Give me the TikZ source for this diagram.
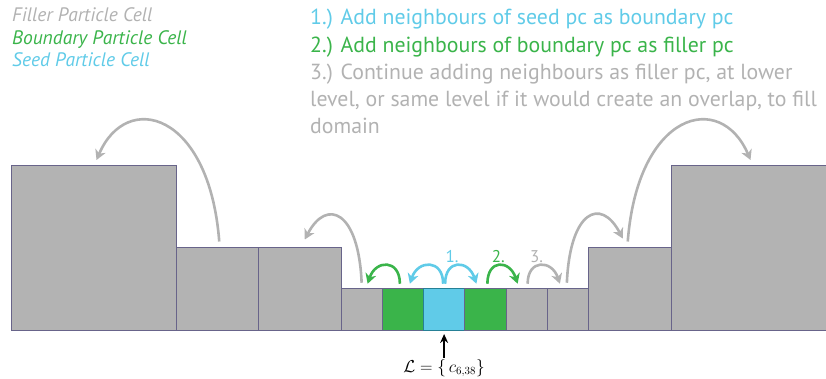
\documentclass[tikz,border=0pt]{standalone}
\usepackage{fontspec}
\setmainfont{PT Sans}
\usetikzlibrary{positioning,arrows.meta}
\definecolor{fillgray}{RGB}{179,179,179}
\definecolor{cellline}{RGB}{104,100,138}
\definecolor{bndgreen}{RGB}{58,180,74}
\definecolor{seedblue}{RGB}{96,203,232}
\definecolor{seedline}{RGB}{38,128,150}
\definecolor{txtgray}{RGB}{178,178,178}

\begin{document}
\begin{tikzpicture}[x=1pt,y=1pt,
    cell/.style={draw=cellline,line width=0.8pt,fill=fillgray,inner sep=0pt,outer sep=0pt,anchor=south west,minimum size=41.25pt},
    bnd/.style={cell,fill=bndgreen},
    seedpc/.style={cell,fill=seedblue,draw=seedline},
    key/.style={anchor=base west,inner sep=0pt,font=\fontsize{19.5}{23}\selectfont\itshape},
    steptext/.style={anchor=base west,inner sep=0pt,align=left,font=\fontsize{21.8}{27}\selectfont},
    hop/.style={line width=2.6pt,-{Stealth[length=10pt,width=11pt,inset=3pt]}},
    ]
  \useasboundingbox (0,0) rectangle (826,378);
  \clip (0,0) rectangle (826,378);

  % legend
  \node[key,text=txtgray] (fillkey) at (12,356) {Filler Particle Cell};
  \node[key,text=bndgreen] (bndkey) at ([yshift=-23pt]fillkey.base west) {Boundary Particle Cell};
  \node[key,text=seedblue] (seedkey) at ([yshift=-22pt]bndkey.base west) {Seed Particle Cell};

  % steps (base of step3 is its last line)
  \node[steptext,text=seedblue] (step1) at (310,353) {1.) Add neighbours of seed pc as boundary pc};
  \node[steptext,text=bndgreen] (step2) at ([yshift=-28pt]step1.base west) {2.) Add neighbours of boundary pc as filler pc};
  \node[steptext,text=txtgray] (step3) at ([yshift=-81pt]step2.base west) {3.) Continue adding neighbours as filler pc, at lower\\level, or same level if it would create an overlap, to fill\\domain};

  % cells
  \node[cell,minimum size=165pt] (big1) at (11,48) {};
  \node[cell,minimum size=82.5pt] (mid1) at (big1.south east) {};
  \node[cell,minimum size=82.5pt] (mid2) at (mid1.south east) {};
  \node[cell] (fil1) at (mid2.south east) {};
  \node[bnd] (bnd1) at (fil1.south east) {};
  \node[seedpc] (seed) at (bnd1.south east) {};
  \node[bnd] (bnd2) at (seed.south east) {};
  \node[cell] (fil2) at (bnd2.south east) {};
  \node[cell] (fil3) at (fil2.south east) {};
  \node[cell,minimum size=82.5pt] (mid3) at (fil3.south east) {};
  \node[cell,minimum size=165pt] (big2) at (mid3.south east) {};

  % small hops
  \draw[hop,bndgreen] ([shift={(-3,5)}]bnd1.north) .. controls +(0,25) and +(8,24) .. ([shift={(6,5)}]fil1.north);
  \draw[hop,seedblue] ([shift={(-1,5)}]seed.north) .. controls +(0,25) and +(8,24) .. ([shift={(7,5)}]bnd1.north);
  \draw[hop,seedblue] ([shift={(1,5)}]seed.north) .. controls +(0,25) and +(-8,24) .. ([shift={(-9,5)}]bnd2.north);
  \draw[hop,bndgreen] ([shift={(2,5)}]bnd2.north) .. controls +(0,25) and +(-8,24) .. ([shift={(-9,5)}]fil2.north);
  \draw[hop,txtgray] ([shift={(1,5)}]fil2.north) .. controls +(0,25) and +(-8,24) .. ([shift={(-8,5)}]fil3.north);
  \node[text=seedblue,font=\fontsize{17}{20}\selectfont] (lab1) at ([shift={(8,32)}]seed.north) {1.};
  \node[text=bndgreen,font=\fontsize{17}{20}\selectfont] (lab2) at ([shift={(13,32)}]bnd2.north) {2.};
  \node[text=txtgray,font=\fontsize{17}{20}\selectfont] (lab3) at ([shift={(10,32)}]fil2.north) {3.};

  % big hops
  \draw[hop,txtgray] ([shift={(0,6)}]fil1.north) .. controls +(-3,72) and +(22,42) .. ([shift={(5,8)}]mid2.north);
  \draw[hop,txtgray] ([shift={(2,6)}]mid1.north) .. controls +(-10,130) and +(30,70) .. ([shift={(3,5)}]big1.north);
  \draw[hop,txtgray] ([shift={(-1,6)}]fil3.north) .. controls +(3,72) and +(-22,42) .. ([shift={(-7,9)}]mid3.north);
  \draw[hop,txtgray] ([shift={(-2,6)}]mid3.north) .. controls +(10,130) and +(-30,70) .. ([shift={(-3,5)}]big2.north);

  % seed list
  \node[inner sep=1pt,font=\fontsize{16}{18}\selectfont] (clist) at ([yshift=-38pt]seed.south) {$\mathcal{L} = \{\, c_{6,38} \}$};
  \draw[-{Stealth[length=9pt,width=8pt]},line width=1.6pt] (clist.north) -- ([yshift=-4pt]seed.south);
\end{tikzpicture}
\end{document}
